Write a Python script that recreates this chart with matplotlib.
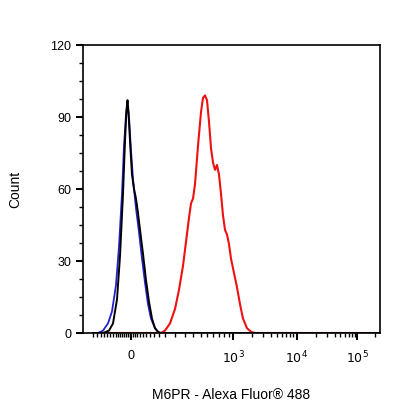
import matplotlib
matplotlib.use("Agg")
import matplotlib.pyplot as plt
import numpy as np
plt.rcParams['font.family'] = ['Liberation Sans', 'DejaVu Sans']

# x in display channel units (0 = left edge of axis)
black_x = [10, 20, 26, 30, 34, 37, 40, 42, 43.5, 44.5, 45.5, 47, 49, 51, 53, 55, 57, 60, 63, 66, 69, 72, 75, 78, 297]
black_y = [0, 0, 1, 4, 14, 32, 58, 80, 93, 97, 92, 80, 66, 60, 56, 50, 43, 33, 22, 13, 6, 2, 0.5, 0, 0]
blue_x = [10, 15, 20, 25, 29, 33, 36, 39, 41, 43, 44.5, 46, 48, 50, 53, 56, 59, 62, 65, 68, 72, 76, 297]
blue_y = [0, 0, 1, 4, 9, 20, 36, 58, 78, 91, 95, 90, 76, 64, 52, 42, 31, 21, 12, 6, 2, 0, 0]
red_x = [10, 78, 82, 87, 92, 96, 100, 103, 106, 108, 110, 112, 115, 118, 120, 122, 124, 126, 128, 130, 132, 134, 136, 138, 140, 142, 144, 146, 148, 151, 154, 157, 160, 164, 168, 172, 297]
red_y = [0, 0, 1, 4, 10, 18, 28, 38, 48, 54, 56, 62, 78, 92, 98, 99, 97, 88, 77, 71, 68, 70, 66, 58, 49, 43, 41, 37, 31, 25, 19, 12, 6, 2, 0.5, 0, 0]

major_pos = [48, 150, 214, 274]
major_lab = ["0", r"$10^3$", r"$10^4$", r"$10^5$"]
minor_pos = [10, 14, 18, 21, 24, 27, 30, 33, 35, 37, 39, 41, 43, 45, 47, 50, 52, 54, 57, 60, 63, 67, 71, 76,
             82, 92, 102, 110, 118, 124, 130, 136, 141, 146,
             169, 180, 188, 194, 199, 203, 207, 210, 233, 244, 252, 257, 262, 266, 269, 272, 292]

fig = plt.figure(figsize=(4.16, 4.16), dpi=100)
ax = fig.add_axes([83/416, (416-333)/416, 297/416, 288/416])
ax.plot(red_x, red_y, color="#ee1111", lw=1.5)
ax.plot(blue_x, blue_y, color="#2222cc", lw=1.3)
ax.plot(black_x, black_y, color="black", lw=1.4)
ax.set_xlim(0, 297)
ax.set_ylim(0, 120)
ax.set_yticks([0, 30, 60, 90, 120])
ax.set_yticks(np.arange(0, 121, 7.5), minor=True)
ax.set_xticks(major_pos)
ax.set_xticklabels(major_lab)
ax.set_xticks(minor_pos, minor=True)
ax.tick_params(axis="both", which="major", labelsize=9, length=5, width=1.5)
ax.tick_params(axis="both", which="minor", length=3, width=1)
ax.tick_params(axis="x", pad=7)
for s in ax.spines.values():
    s.set_linewidth(1.2)
ax.set_ylabel("Count", fontsize=10, labelpad=20)
ax.set_xlabel("M6PR - Alexa Fluor® 488", fontsize=10, labelpad=16)
fig.savefig("out.png", dpi=100)
